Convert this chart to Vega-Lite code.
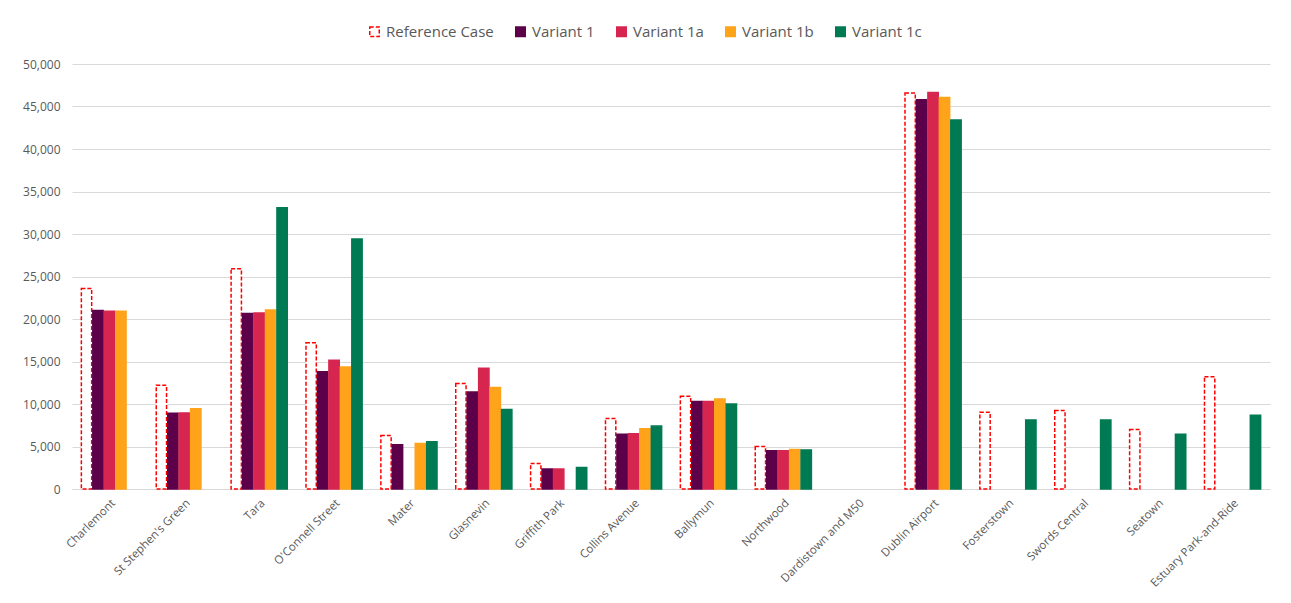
{
  "$schema": "https://vega.github.io/schema/vega-lite/v6.json",
  "width": 1198,
  "height": 425,
  "autosize": {"type": "none"},
  "padding": {"left": 72, "top": 64, "right": 21, "bottom": 114},
  "background": "white",
  "config": {
    "font": "Open Sans",
    "view": {"stroke": null},
    "axis": {"labelColor": "#595959", "labelFont": "Open Sans", "labelFontSize": 12, "titleColor": "#595959"}
  },
  "data": {
    "values": [
      {"station": "Charlemont", "series": "Reference Case", "value": 23600},
      {"station": "Charlemont", "series": "Variant 1", "value": 21000},
      {"station": "Charlemont", "series": "Variant 1a", "value": 20900},
      {"station": "Charlemont", "series": "Variant 1b", "value": 20900},
      {"station": "St Stephen's Green", "series": "Reference Case", "value": 12200},
      {"station": "St Stephen's Green", "series": "Variant 1", "value": 8900},
      {"station": "St Stephen's Green", "series": "Variant 1a", "value": 8950},
      {"station": "St Stephen's Green", "series": "Variant 1b", "value": 9450},
      {"station": "Tara", "series": "Reference Case", "value": 25900},
      {"station": "Tara", "series": "Variant 1", "value": 20650},
      {"station": "Tara", "series": "Variant 1a", "value": 20700},
      {"station": "Tara", "series": "Variant 1b", "value": 21050},
      {"station": "Tara", "series": "Variant 1c", "value": 33100},
      {"station": "O'Connell Street", "series": "Reference Case", "value": 17200},
      {"station": "O'Connell Street", "series": "Variant 1", "value": 13800},
      {"station": "O'Connell Street", "series": "Variant 1a", "value": 15150},
      {"station": "O'Connell Street", "series": "Variant 1b", "value": 14350},
      {"station": "O'Connell Street", "series": "Variant 1c", "value": 29400},
      {"station": "Mater", "series": "Reference Case", "value": 6300},
      {"station": "Mater", "series": "Variant 1", "value": 5200},
      {"station": "Mater", "series": "Variant 1b", "value": 5350},
      {"station": "Mater", "series": "Variant 1c", "value": 5550},
      {"station": "Glasnevin", "series": "Reference Case", "value": 12400},
      {"station": "Glasnevin", "series": "Variant 1", "value": 11400},
      {"station": "Glasnevin", "series": "Variant 1a", "value": 14200},
      {"station": "Glasnevin", "series": "Variant 1b", "value": 11950},
      {"station": "Glasnevin", "series": "Variant 1c", "value": 9350},
      {"station": "Griffith Park", "series": "Reference Case", "value": 3000},
      {"station": "Griffith Park", "series": "Variant 1", "value": 2350},
      {"station": "Griffith Park", "series": "Variant 1a", "value": 2350},
      {"station": "Griffith Park", "series": "Variant 1c", "value": 2520},
      {"station": "Collins Avenue", "series": "Reference Case", "value": 8300},
      {"station": "Collins Avenue", "series": "Variant 1", "value": 6450},
      {"station": "Collins Avenue", "series": "Variant 1a", "value": 6500},
      {"station": "Collins Avenue", "series": "Variant 1b", "value": 7100},
      {"station": "Collins Avenue", "series": "Variant 1c", "value": 7400},
      {"station": "Ballymun", "series": "Reference Case", "value": 10900},
      {"station": "Ballymun", "series": "Variant 1", "value": 10300},
      {"station": "Ballymun", "series": "Variant 1a", "value": 10300},
      {"station": "Ballymun", "series": "Variant 1b", "value": 10600},
      {"station": "Ballymun", "series": "Variant 1c", "value": 10000},
      {"station": "Northwood", "series": "Reference Case", "value": 5000},
      {"station": "Northwood", "series": "Variant 1", "value": 4500},
      {"station": "Northwood", "series": "Variant 1a", "value": 4500},
      {"station": "Northwood", "series": "Variant 1b", "value": 4650},
      {"station": "Northwood", "series": "Variant 1c", "value": 4600},
      {"station": "Dublin Airport", "series": "Reference Case", "value": 46600},
      {"station": "Dublin Airport", "series": "Variant 1", "value": 45800},
      {"station": "Dublin Airport", "series": "Variant 1a", "value": 46650},
      {"station": "Dublin Airport", "series": "Variant 1b", "value": 46050},
      {"station": "Dublin Airport", "series": "Variant 1c", "value": 43400},
      {"station": "Fosterstown", "series": "Reference Case", "value": 9030},
      {"station": "Fosterstown", "series": "Variant 1c", "value": 8130},
      {"station": "Swords Central", "series": "Reference Case", "value": 9230},
      {"station": "Swords Central", "series": "Variant 1c", "value": 8130},
      {"station": "Seatown", "series": "Reference Case", "value": 7000},
      {"station": "Seatown", "series": "Variant 1c", "value": 6440},
      {"station": "Estuary Park-and-Ride", "series": "Reference Case", "value": 13200},
      {"station": "Estuary Park-and-Ride", "series": "Variant 1c", "value": 8680}
    ]
  },
  "mark": {"type": "bar", "strokeWidth": 1.5},
  "encoding": {
    "x": {
      "field": "station",
      "type": "nominal",
      "sort": ["Charlemont", "St Stephen's Green", "Tara", "O'Connell Street", "Mater", "Glasnevin", "Griffith Park", "Collins Avenue", "Ballymun", "Northwood", "Dardistown and M50", "Dublin Airport", "Fosterstown", "Swords Central", "Seatown", "Estuary Park-and-Ride"],
      "scale": {
        "domain": ["Charlemont", "St Stephen's Green", "Tara", "O'Connell Street", "Mater", "Glasnevin", "Griffith Park", "Collins Avenue", "Ballymun", "Northwood", "Dardistown and M50", "Dublin Airport", "Fosterstown", "Swords Central", "Seatown", "Estuary Park-and-Ride"],
        "paddingInner": 0.25,
        "paddingOuter": 0.125
      },
      "axis": {
        "title": null,
        "labelAngle": -45,
        "labelFontSize": 11.5,
        "ticks": false,
        "domainColor": "#d9d9d9",
        "domainWidth": 1,
        "labelPadding": 8
      }
    },
    "xOffset": {
      "field": "series",
      "type": "nominal",
      "scale": {"domain": ["Reference Case", "Variant 1", "Variant 1a", "Variant 1b", "Variant 1c"], "paddingInner": 0.1}
    },
    "y": {
      "field": "value",
      "type": "quantitative",
      "scale": {"domain": [0, 50000], "nice": false},
      "axis": {
        "title": null,
        "values": [0, 5000, 10000, 15000, 20000, 25000, 30000, 35000, 40000, 45000, 50000],
        "labelOverlap": false,
        "format": ",d",
        "domain": false,
        "ticks": false,
        "gridColor": "#d9d9d9",
        "gridWidth": 1,
        "labelPadding": 12
      }
    },
    "fill": {
      "field": "series",
      "type": "nominal",
      "title": null,
      "scale": {"domain": ["Reference Case", "Variant 1", "Variant 1a", "Variant 1b", "Variant 1c"], "range": ["#ffffff", "#5c0049", "#d62650", "#ffa31a", "#007a53"]},
      "legend": {
        "orient": "none",
        "legendX": 295,
        "legendY": -40,
        "direction": "horizontal",
        "symbolType": "square",
        "symbolSize": 90,
        "labelFontSize": 15,
        "labelColor": "#595959",
        "labelFont": "Open Sans",
        "labelOffset": 4,
        "columnPadding": 18,
        "symbolStrokeWidth": 1.5
      }
    },
    "stroke": {
      "field": "series",
      "type": "nominal",
      "title": null,
      "scale": {"domain": ["Reference Case", "Variant 1", "Variant 1a", "Variant 1b", "Variant 1c"], "range": ["#ff0000", "#5c0049", "#d62650", "#ffa31a", "#007a53"]}
    },
    "strokeDash": {
      "field": "series",
      "type": "nominal",
      "title": null,
      "scale": {"domain": ["Reference Case", "Variant 1", "Variant 1a", "Variant 1b", "Variant 1c"], "range": [[4, 2], [1, 0], [1, 0], [1, 0], [1, 0]]}
    }
  }
}
